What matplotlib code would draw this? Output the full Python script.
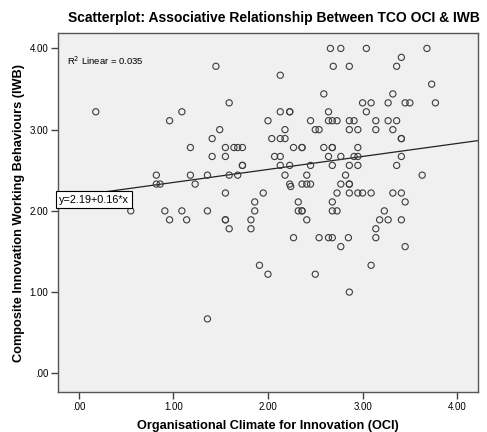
import matplotlib.pyplot as plt
import numpy as np

plt.rcParams['font.family'] = ['Liberation Sans', 'DejaVu Sans']

# OCI (x) and IWB (y) scores
oci = [1.45, 1.59, 0.18, 1.09, 0.96, 2.00, 1.49, 1.41, 2.04, 1.18,
       1.55, 1.64, 1.68, 1.73, 1.41, 1.55, 2.07, 1.73, 1.73, 0.82,
       1.18, 1.36, 1.59, 1.68, 0.82, 0.86, 1.23, 1.55, 1.95, 1.86,
       0.55, 0.91, 1.09, 1.36, 1.86, 0.96, 1.14, 1.55, 1.55, 1.82,
       1.59, 1.82, 1.91, 2.00, 1.36,
       2.66, 2.77, 3.04, 3.68, 3.41, 2.69, 2.86, 3.36, 2.13, 3.73,
       2.59, 3.32, 3.00, 3.09, 3.27, 3.45, 3.50, 3.77, 2.13, 2.23,
       2.23, 2.64, 3.04, 2.45, 2.64, 2.68, 2.73, 2.86, 2.91, 3.14,
       3.27, 3.36, 2.18, 2.50, 2.54, 2.86, 2.95, 3.14, 3.32, 2.13,
       2.18, 3.41, 3.41, 2.27, 2.36, 2.36, 2.59, 2.68, 2.68, 2.95,
       2.13, 2.64, 2.77, 2.91, 2.95, 3.41, 2.13, 2.23, 2.45, 2.68,
       2.86, 2.95, 3.36, 2.18, 2.41, 2.82, 3.63, 2.23, 2.24, 2.36,
       2.41, 2.45, 2.77, 2.86, 2.86, 2.73, 2.86, 2.95, 3.00, 3.09,
       3.32, 3.41, 2.32, 2.68, 3.45, 2.32, 2.36, 2.36, 2.68, 2.73,
       3.23, 2.41, 3.18, 3.27, 3.41, 3.14, 2.27, 2.54, 2.64, 2.68,
       2.85, 3.14, 2.77, 3.45, 2.50, 3.09, 2.86]
iwb = [3.78, 3.33, 3.22, 3.22, 3.11, 3.11, 3.00, 2.89, 2.89, 2.78,
       2.78, 2.78, 2.78, 2.78, 2.67, 2.67, 2.67, 2.56, 2.56, 2.44,
       2.44, 2.44, 2.44, 2.44, 2.33, 2.33, 2.33, 2.22, 2.22, 2.11,
       2.00, 2.00, 2.00, 2.00, 2.00, 1.89, 1.89, 1.89, 1.89, 1.89,
       1.78, 1.78, 1.33, 1.22, 0.67,
       4.00, 4.00, 4.00, 4.00, 3.89, 3.78, 3.78, 3.78, 3.67, 3.56,
       3.44, 3.44, 3.33, 3.33, 3.33, 3.33, 3.33, 3.33, 3.22, 3.22,
       3.22, 3.22, 3.22, 3.11, 3.11, 3.11, 3.11, 3.11, 3.11, 3.11,
       3.11, 3.11, 3.00, 3.00, 3.00, 3.00, 3.00, 3.00, 3.00, 2.89,
       2.89, 2.89, 2.89, 2.78, 2.78, 2.78, 2.78, 2.78, 2.78, 2.78,
       2.67, 2.67, 2.67, 2.67, 2.67, 2.67, 2.56, 2.56, 2.56, 2.56,
       2.56, 2.56, 2.56, 2.44, 2.44, 2.44, 2.44, 2.33, 2.30, 2.33,
       2.33, 2.33, 2.33, 2.33, 2.33, 2.22, 2.22, 2.22, 2.22, 2.22,
       2.22, 2.22, 2.11, 2.11, 2.11, 2.00, 2.00, 2.00, 2.00, 2.00,
       2.00, 1.89, 1.89, 1.89, 1.89, 1.78, 1.67, 1.67, 1.67, 1.67,
       1.67, 1.67, 1.56, 1.56, 1.22, 1.33, 1.00]

intercept = 2.19
slope = 0.16
r2 = 0.035

ticks = [0, 1, 2, 3, 4]
tick_labels = ['.00', '1.00', '2.00', '3.00', '4.00']

fig = plt.figure(figsize=(4.87, 4.32), dpi=100)
ax = fig.add_axes([0.119, 0.0926, 0.8625, 0.831])
ax.set_facecolor('#f0f0f0')

ax.scatter(oci, iwb, s=20, facecolors='none', edgecolors='#3c3c3c',
           linewidths=0.8, zorder=3)

ax.set_xlim(-0.22, 4.22)
ax.set_ylim(-0.23, 4.19)

# fit line across the whole x range
xs = np.array(ax.get_xlim())
ax.plot(xs, intercept + slope * xs, color='#222222', lw=0.9, zorder=2)

ax.text(-0.21, 2.14, f'y={intercept:.2f}+{slope:.2f}*x',
        fontsize=7.8, va='center', ha='left', zorder=4,
        bbox=dict(boxstyle='square,pad=0.28', fc='white', ec='black', lw=0.8))
ax.text(0.021, 0.922, f'R$^2$ Linear = {r2:.3f}', transform=ax.transAxes,
        fontsize=6.8, va='center', ha='left')

ax.set_xticks(ticks)
ax.set_xticklabels(tick_labels)
ax.set_yticks(ticks)
ax.set_yticklabels(tick_labels)
ax.tick_params(direction='out', length=5, width=1, color='#444444',
               labelsize=7, pad=2)
for sp in ax.spines.values():
    sp.set_color('#555555')
    sp.set_linewidth(1)

ax.set_title('Scatterplot: Associative Relationship Between TCO OCI & IWB',
             fontsize=10, fontweight='bold', pad=8, x=0.515)
ax.set_xlabel('Organisational Climate for Innovation (OCI)', fontsize=9.2,
              fontweight='bold', labelpad=6)
ax.set_ylabel('Composite Innovation Working Behaviours (IWB)', fontsize=9.2,
              fontweight='bold', labelpad=3)

fig.savefig('out.png', dpi=100)
